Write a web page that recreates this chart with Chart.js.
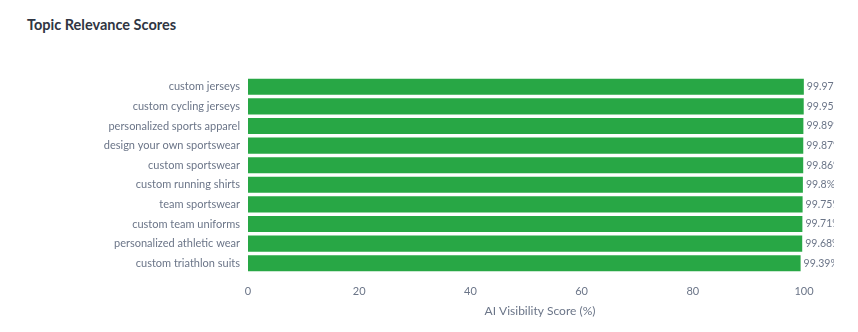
<!DOCTYPE html>
<html>
<head>
<meta charset="utf-8">
<script src="https://cdn.jsdelivr.net/npm/chart.js@4/dist/chart.umd.min.js"></script>
<style>
  html, body { margin: 0; padding: 0; background: #fff; }
  body { width: 858px; height: 332px; position: relative; overflow: hidden; font-family: "Source Sans Pro", Lato, "Open Sans", sans-serif; }
  #title { position: absolute; left: 27px; top: 16px; font-size: 14.5px; font-weight: 700; color: #2f3542; }
  #wrap { position: absolute; left: 0; top: 0; width: 834px; height: 332px; }
</style>
</head>
<body>
<div id="title">Topic Relevance Scores</div>
<div id="wrap"><canvas id="chart"></canvas></div>
<script>
// --- 数据 ---
const topics = [
    'custom jerseys',
    'custom cycling jerseys',
    'personalized sports apparel',
    'design your own sportswear',
    'custom sportswear',
    'custom running shirts',
    'team sportswear',
    'custom team uniforms',
    'personalized athletic wear',
    'custom triathlon suits'
];
const scores = [99.97, 99.95, 99.89, 99.87, 99.86, 99.8, 99.75, 99.71, 99.68, 99.39];
const xTicks = [0, 20, 40, 60, 80, 100];
const xTitle = 'AI Visibility Score (%)';

const GREEN = '#28a745';
const TEXT_GREY = '#6b7588';
const FONT = '"Source Sans Pro", Lato, sans-serif';

// 数值标签 + 横轴标题
const valueLabels = {
    id: 'valueLabels',
    afterDatasetsDraw(chart) {
        const ctx = chart.ctx;
        const meta = chart.getDatasetMeta(0);
        ctx.save();
        ctx.font = '10.5px ' + FONT;
        ctx.fillStyle = TEXT_GREY;
        ctx.textBaseline = 'middle';
        ctx.textAlign = 'left';
        meta.data.forEach((bar, i) => {
            ctx.fillText(scores[i] + '%', bar.x + 3, bar.y);
        });
        // 横轴标题 (稍微偏右, 和原图一致)
        const area = chart.chartArea;
        ctx.font = '12px ' + FONT;
        ctx.textAlign = 'center';
        ctx.fillText(xTitle, (area.left + area.right) / 2 + 14, 311);
        ctx.restore();
    }
};

new Chart(document.getElementById('chart'), {
    type: 'bar',
    data: {
        labels: topics,
        datasets: [{
            data: scores,
            backgroundColor: GREEN,
            borderWidth: 0,
            barPercentage: 0.82,
            categoryPercentage: 1
        }]
    },
    options: {
        indexAxis: 'y',
        responsive: true,
        maintainAspectRatio: false,
        animation: false,
        layout: { padding: { top: 77, right: 30, left: 0, bottom: 0 } },
        scales: {
            x: {
                min: 0,
                max: 100,
                grid: { display: false, drawTicks: false },
                border: { display: false },
                afterBuildTicks: scale => { scale.ticks = xTicks.map(v => ({ value: v })); },
                afterFit: scale => { scale.height = 59; },
                ticks: {
                    color: TEXT_GREY,
                    padding: 12,
                    font: { family: FONT, size: 11 }
                }
            },
            y: {
                grid: { display: false, drawTicks: false },
                border: { display: false },
                afterFit: scale => { scale.width = 248; },
                ticks: {
                    color: TEXT_GREY,
                    padding: 8,
                    font: { family: FONT, size: 11 }
                }
            }
        },
        plugins: {
            legend: { display: false },
            tooltip: { enabled: false }
        }
    },
    plugins: [valueLabels]
});
</script>
</body>
</html>
